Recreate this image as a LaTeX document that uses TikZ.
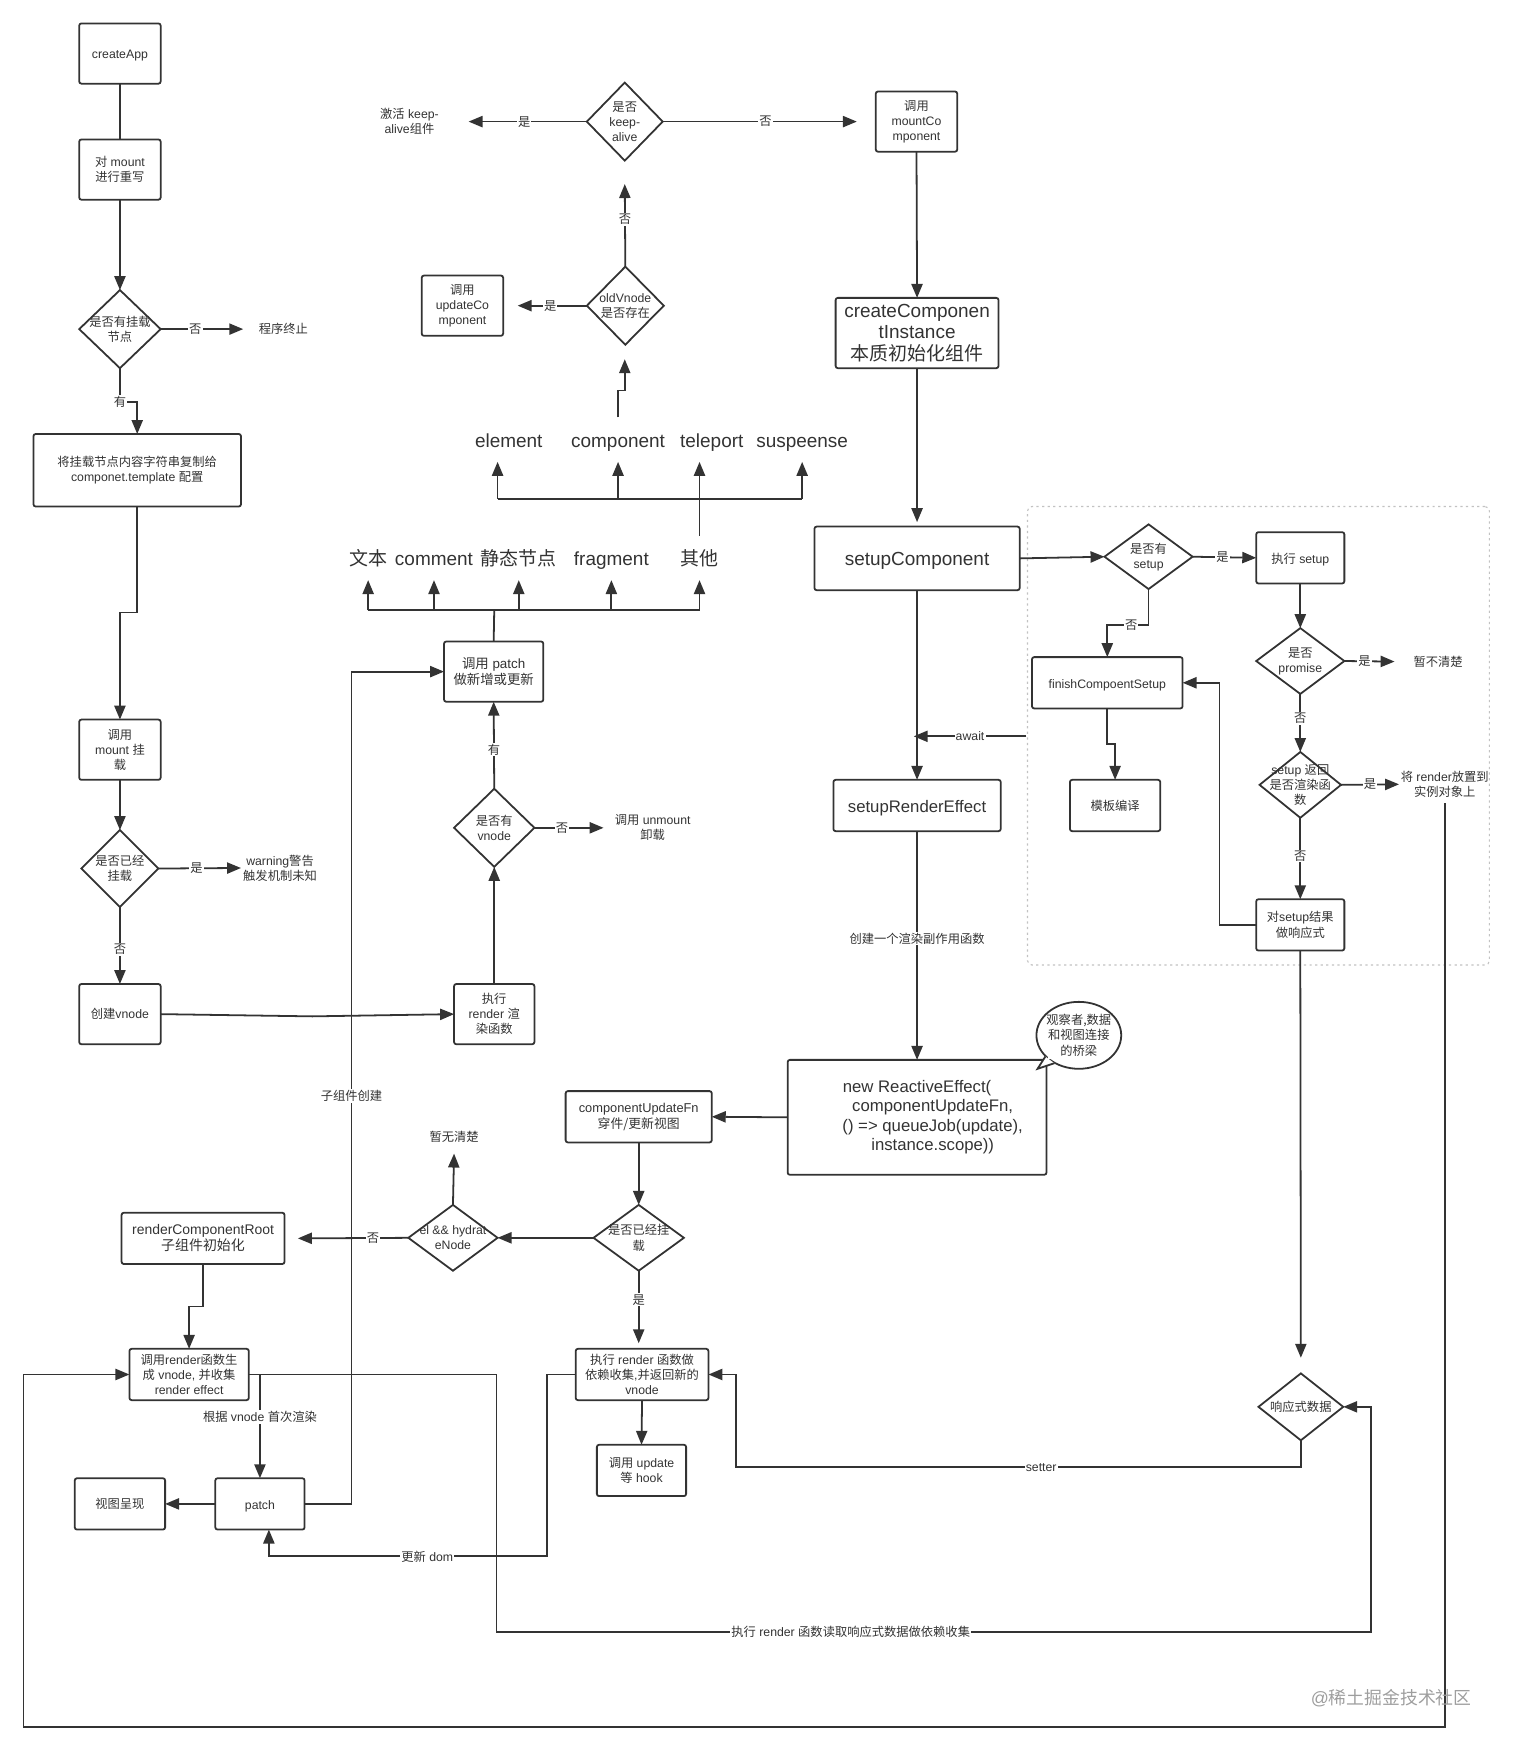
\documentclass[tikz,border=0pt]{standalone}
\usepackage{fontspec}
\setmainfont{Liberation Sans}
\newfontfamily\cjk{Noto Sans CJK SC}
\usetikzlibrary{arrows.meta,shapes.geometric}
\definecolor{ink}{HTML}{333333}
\newcommand\zh[1]{{\cjk #1}}
\newcommand\fs[2]{\fontsize{#1}{#2}\selectfont}
\tikzset{
  boxs/.style={draw=ink,line width=1.6pt,rounded corners=2pt,inner sep=0pt,outer sep=0pt,align=center,text=ink,font=\fs{11}{13.5}},
  dias/.style={draw=ink,line width=1.6pt,shape=diamond,inner sep=0pt,outer sep=0pt},
  tx/.style={inner sep=0pt,outer sep=0pt,align=center,text=ink,font=\fs{11}{13.5}},
  big/.style={font=\fs{17}{19},minimum height=40pt,text height=16pt,text depth=2pt},
  one/.style={text height=11.5pt,text depth=2pt},
  mid/.style={text height=14pt,text depth=2pt},
  ln/.style={draw=ink,line width=1.6pt},
  arr/.style={draw=ink,line width=1.6pt,-{Triangle[length=12.5pt,width=10pt]}},
  elab/.style={fill=white,inner sep=1pt,text=ink,font=\fs{11}{13.5}},
}
\newcommand\rbx[7][]{\node[boxs,minimum width={(#5-#3)*1pt},minimum height={(#6-#4)*1pt},#1] (#2) at ({(#3+#5)/2},{(#4+#6)/2}) {#7};}
\newcommand\dmd[7][]{\node[dias,minimum width={(#5-#3)*1pt},minimum height={(#6-#4)*1pt}] (#2) at ({(#3+#5)/2},{(#4+#6)/2}) {};
  \node[tx,#1] (#2t) at (#2) {#7};}
\begin{document}
\begin{tikzpicture}[x=1pt,y=-1pt]
\useasboundingbox (0,0) rectangle (1355.3,1567.7);
% dotted region
\node[draw=black!24,line width=1pt,dash pattern=on 2pt off 3pt,rounded corners=4pt,minimum width=414pt,minimum height=411pt,inner sep=0pt,outer sep=0pt] (region) at (1128,659.5) {};
% left column
\rbx[one]{app}{71}{21}{144}{75}{createApp}
\rbx{rewrite}{71}{125}{144}{179}{\zh{对} mount\\\zh{进行重写}}
\dmd{hasroot}{71}{260}{144}{330}{\zh{是否有挂载}\\\zh{节点}}
\node[tx,minimum width=72pt] (stop) at (254,295) {\zh{程序终止}};
\rbx{tpl}{30}{389}{216}{454}{\zh{将挂载节点内容字符串复制给}\\componet.template \zh{配置}}
\rbx{mount}{71}{645}{144}{699}{\zh{调用}\\mount \zh{挂}\\\zh{载}}
\dmd{mounted}{73}{744}{142}{813}{\zh{是否已经}\\\zh{挂载}}
\node[tx,minimum width=70pt] (warn) at (251,778) {warning\zh{警告}\\\zh{触发机制未知}};
\rbx{mkv}{71}{882}{144}{936}{\zh{创建}vnode}
\rbx{render}{407}{882}{479}{936}{\zh{执行}\\render \zh{渲}\\\zh{染函数}}
\dmd{hasv}{407}{707}{479}{777}{\zh{是否有}\\vnode}
\node[tx,minimum width=88pt] (unm) at (585,742) {\zh{调用} unmount\\\zh{卸载}};
\rbx[font=\fs{12}{14}]{cpatch}{398}{575}{487}{629}{\zh{调用} patch\\\zh{做新增或更新}}
% type rows
\node[tx,big] (wen) at (330,500) {\zh{文本}};
\node[tx,big] (com) at (389,500) {comment};
\node[tx,big] (sta) at (465,500) {\zh{静态节点}};
\node[tx,big] (fra) at (548,500) {fragment};
\node[tx,big] (qi) at (627,500) {\zh{其他}};
\node[tx,big] (ele) at (456,394) {element};
\node[tx,big] (cmp) at (554,394) {component};
\node[tx,big] (tel) at (638,394) {teleport};
\node[tx,big] (sus) at (719,394) {suspeense};
\coordinate (bus1) at (443,547);
\coordinate (bus2) at (627,447);
\coordinate (aEle) at (446,414);
\coordinate (aTel) at (627,414);
% middle top
\dmd{old}{526}{239}{595}{309}{oldVnode\\\zh{是否存在}}
\rbx{upd}{378}{247}{451}{301}{\zh{调用}\\updateCo\\mponent}
\dmd{keep}{526}{74}{594}{144}{\zh{是否}\\keep-\\alive}
\node[tx,minimum width=106pt] (act) at (367,109) {\zh{激活} keep-\\alive\zh{组件}};
\rbx{mc}{785}{82}{858}{136}{\zh{调用}\\mountCo\\mponent}
\coordinate (mcIn) at (768,109);
\coordinate (oldIn) at (560,322);
\coordinate (oldOut) at (464,274);
\coordinate (keepIn) at (560,165);
\rbx[font=\fs{17}{19}]{cci}{749}{267}{895}{330}{createComponen\\tInstance\\\zh{本质初始化组件}}
\rbx[font=\fs{17}{19},text height=14pt,text depth=2pt]{setup}{730}{472}{914}{529}{setupComponent}
\dmd{hass}{990}{470}{1069}{528}{\zh{是否有}\\setup}
\rbx[one]{exec}{1126}{477}{1205}{523}{\zh{执行} setup}
\dmd{prom}{1126}{563}{1205}{622}{\zh{是否}\\promise}
\node[tx,minimum width=78pt] (unk) at (1289,593) {\zh{暂不清楚}};
\dmd{ret}{1129}{674}{1202}{733}{setup \zh{返回}\\\zh{是否渲染函}\\\zh{数}}
\node[tx,minimum width=82pt,minimum height=34pt] (put) at (1295,703) {\zh{将} render\zh{放置到}\\\zh{实例对象上}};
\rbx{react}{1126}{806}{1205}{852}{\zh{对}setup\zh{结果}\\\zh{做响应式}}
\rbx[one]{fin}{925}{589}{1060}{635}{finishCompoentSetup}
\rbx{comp}{959}{699}{1040}{745}{\zh{模板编译}}
\rbx[font=\fs{15}{17},mid]{sre}{747}{699}{897}{745}{setupRenderEffect}
\rbx[font=\fs{15}{17.5}]{re}{706}{950}{938}{1053}{new ReactiveEffect(\\\hspace*{28pt}componentUpdateFn,\\\hspace*{28pt}() => queueJob(update),\\\hspace*{28pt}instance.scope))}
% bubble
\node[draw=ink,line width=1.6pt,fill=white,shape=ellipse,minimum width=76pt,minimum height=60pt,inner sep=0pt,outer sep=0pt] (bub) at (967,928) {};
\coordinate (tailA) at (937,947);
\coordinate (tailB) at (930,958);
\coordinate (tailC) at (945,953);
\draw[draw=ink,line width=1.6pt,fill=white] (tailA) -- (tailB) -- (tailC);
\node[fill=white,inner sep=0pt,minimum width=3pt,minimum height=3pt] (tailF) at (941,948) {};
\node[tx] (bubt) at (bub) {\zh{观察者,数据}\\\zh{和视图连接}\\\zh{的桥梁}};
\rbx[font=\fs{11.5}{14}]{cuf}{507}{978}{638}{1024}{componentUpdateFn\\\zh{穿件/更新视图}}
\dmd{ism}{532}{1080}{613}{1139}{\zh{是否已经挂}\\\zh{载}}
\dmd{el}{366}{1080}{446}{1139}{el \&\& hydrat\\eNode}
\node[tx,minimum height=30pt] (nok) at (407,1019) {\zh{暂无清楚}};
\rbx[font=\fs{12.5}{14.5}]{rcr}{109}{1087}{255}{1133}{renderComponentRoot\\\zh{子组件初始化}}
\rbx{callr}{116}{1209}{223}{1255}{\zh{调用}render\zh{函数生}\\\zh{成} vnode, \zh{并收集}\\render effect}
\rbx{doR}{516}{1209}{635}{1255}{\zh{执行} render \zh{函数做}\\\zh{依赖收集},\zh{并返回新的}\\vnode}
\rbx{hook}{535}{1295}{615}{1341}{\zh{调用} update\\\zh{等} hook}
\rbx[one]{patch}{193}{1325}{273}{1371}{patch}
\rbx{view}{67}{1325}{148}{1371}{\zh{视图呈现}}
\dmd{resp}{1128}{1231}{1204}{1291}{\zh{响应式数据}}
\coordinate (respIn) at (1166,1217);
\coordinate (rcrIn) at (267,1110);
\coordinate (doIn) at (572.5,1204);
\coordinate (pIn) at (241,1371);
\coordinate (awS) at (920,660);
\coordinate (awE) at (819,660);
\coordinate (setupIn) at (822,468);
% connectors
\draw[ln] (app.south) -- (rewrite.north);
\draw[arr] (rewrite.south) -- (hasroot.north);
\draw[arr] (hasroot.east) -- node[elab,pos=.42] (l1) {\zh{否}} (stop.west);
\draw[arr] (hasroot.south) -- node[elab,pos=1] (l2) {\zh{有}} (107.5,360) -- (123,360) -- (tpl.north);
\draw[arr] (tpl.south) -- (123,549) -- (107.5,549) -- (mount.north);
\draw[arr] (mount.south) -- (mounted.north);
\draw[arr] (mounted.east) -- node[elab,pos=.46] (l3) {\zh{是}} (warn.west);
\draw[arr] (mounted.south) -- node[elab,pos=.55] (l4) {\zh{否}} (mkv.north);
\draw[arr] (mkv.east) -- (280,911) -- (render.west);
\draw[arr] (render.north) -- (hasv.south);
\draw[arr] (hasv.east) -- node[elab,pos=.4] (l5) {\zh{否}} (unm.west);
\draw[arr] (hasv.north) -- node[elab,pos=.45] (l6) {\zh{有}} (cpatch.south);
\draw[ln] (cpatch.north) -- (bus1);
\draw[ln] (bus1 -| wen.south) -- (bus1 -| qi.south);
\foreach \n in {wen,com,sta,fra,qi} \draw[arr] (bus1 -| \n.south) -- (\n.south);
\draw[ln] (aEle |- bus2) -- (sus.south |- bus2);
\draw[arr] (aEle |- bus2) -- (aEle);
\draw[arr] (cmp.south |- bus2) -- (cmp.south);
\draw[arr] (sus.south |- bus2) -- (sus.south);
\draw[arr] (qi.north) -- (aTel);
\draw[arr] (cmp.north) -- (554,350) -- (560,350) -- (oldIn);
\draw[arr] (old.west) -- node[elab,pos=.53] (l7) {\zh{是}} (oldOut);
\draw[arr] (old.north) -- node[elab,pos=.57] (l8) {\zh{否}} (keepIn);
\draw[arr] (keep.west) -- node[elab,pos=.53] (l9) {\zh{是}} (act.east);
\draw[arr] (keep.east) -- node[elab,pos=.53] (l10) {\zh{否}} (mcIn);
\draw[arr] (mc.south) -- (cci.north);
\draw[arr] (cci.south) -- (setupIn);
\draw[arr] (setup.east) -- (hass.west);
\draw[arr] (hass.east) -- node[elab,pos=.47] (l11) {\zh{是}} (exec.west);
\draw[arr] (hass.south) -- (1029.5,560) -- node[elab,pos=.42] (l12) {\zh{否}} (992.5,560) -- (fin.north);
\draw[arr] (exec.south) -- (prom.north);
\draw[arr] (prom.east) -- node[elab,pos=.4] (l13) {\zh{是}} (unk.west);
\draw[arr] (prom.south) -- node[elab,pos=.42] (l14) {\zh{否}} (ret.north);
\draw[arr] (ret.east) -- node[elab,pos=.5] (l15) {\zh{是}} (put.west);
\draw[arr] (ret.south) -- node[elab,pos=.47] (l16) {\zh{否}} (react.north);
\draw[arr] (react.west) -- (1093,829) -- (1093,612) -- (fin.east);
\draw[arr] (fin.south) -- (992.5,667) -- (999.5,667) -- (comp.north);
\draw[arr] (setup.south) -- (sre.north);
\draw[arr] (awS) -- node[elab,pos=.5] (l17) {await} (awE);
\draw[arr] (sre.south) -- node[elab,pos=.47] (l18) {\zh{创建一个渲染副作用函数}} (re.north);
\draw[arr] (re.west) -- (cuf.east);
\draw[arr] (cuf.south) -- (ism.north);
\draw[arr] (ism.west) -- (el.east);
\draw[arr] (el.north) -- (nok.south);
\draw[arr] (el.west) -- node[elab,pos=.32] (l19) {\zh{否}} (rcrIn);
\draw[arr] (rcr.south) -- (182,1171) -- (169.5,1171) -- (callr.north);
\draw[arr] (ism.south) -- node[elab,pos=.4] (l20) {\zh{是}} (doIn);
\draw[arr] (doR.south) -- (hook.north);
\draw[arr] (callr.east) -- (445,1232) -- (445,1463) -- node[elab,pos=.405] (l21) {\zh{执行} render \zh{函数读取响应式数据做依赖收集}} (1229,1463) -- (1229,1261) -- (resp.east);
\draw[arr] (callr.east -| patch.north) -- node[elab,pos=.41] (l22) {\zh{根据} vnode \zh{首次渲染}} (patch.north);
\draw[arr] (patch.west) -- (view.east);
\draw[arr] (patch.east) -- (315,1348) -- node[elab,pos=.49] (l23) {\zh{子组件创建}} (315,602) -- (cpatch.west);
\draw[arr] (doR.west) -- (490,1232) -- (490,1395) -- node[elab,pos=.43] (l24) {\zh{更新} dom} (241,1395) -- (pIn);
\draw[arr] (react.south) -- (respIn);
\draw[arr] (resp.south) -- (1166,1315) -- node[elab,pos=.46] (l25) {setter} (660,1315) -- (660,1232) -- (doR.east);
\draw[arr] (put.south) -- (1295,1548) -- (21,1548) -- (21,1232) -- (callr.west);
% watermark
\node[inner sep=0pt,text=black!38,font=\fs{16}{18}] (wm) at (1247,1522) {@\zh{稀土掘金技术社区}};
\end{tikzpicture}
\end{document}
